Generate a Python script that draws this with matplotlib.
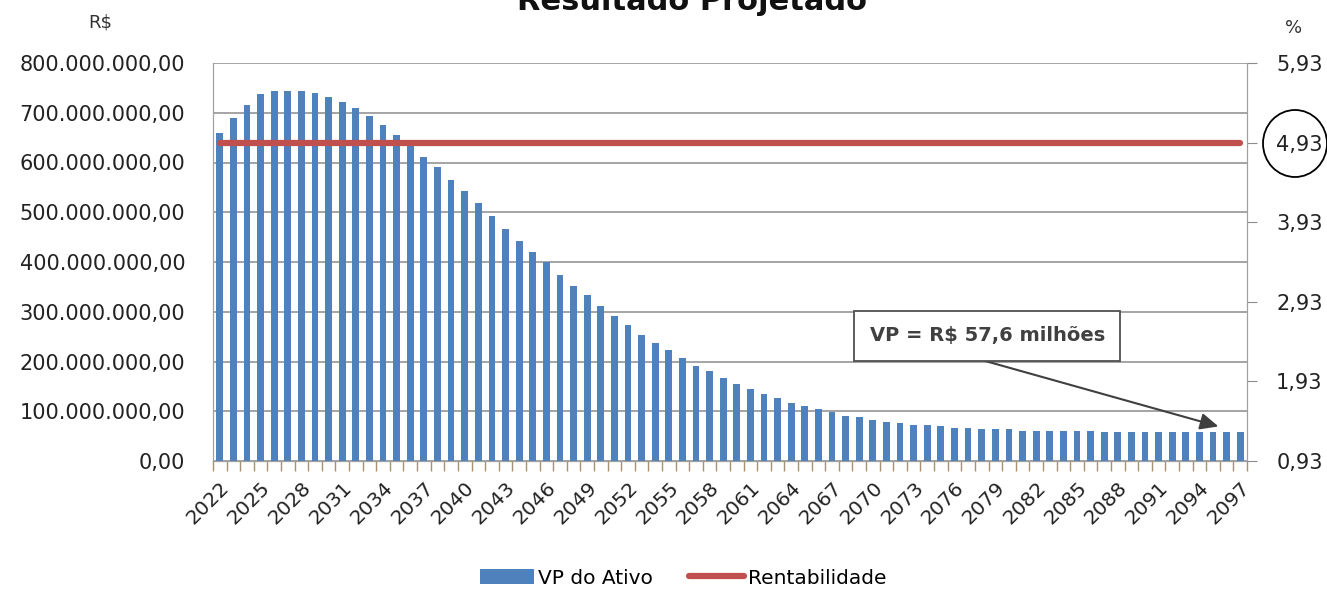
import numpy as np
import matplotlib
matplotlib.use('Agg')
import matplotlib.pyplot as plt
from matplotlib.patches import Ellipse

# dados
anos = list(range(2022, 2098))
vp_mi = [659, 690, 715, 737, 743, 743, 743, 740, 731, 721,
         709, 693, 675, 656, 633, 612, 590, 565, 543, 518,
         492, 467, 443, 420, 400, 374, 352, 333, 312, 292,
         274, 254, 238, 223, 207, 191, 180, 166, 154, 145,
         135, 126, 117, 110, 104, 99, 91, 89, 82, 79,
         76, 73, 72, 70, 66, 66, 64, 64, 64, 61,
         61, 60, 60, 60, 60, 59, 59, 58, 58, 58,
         58, 58, 58, 57.6, 57.6, 57.6]
rentab = [4.93] * len(anos)
ticks_esq = [0, 100, 200, 300, 400, 500, 600, 700, 800]
ticks_dir = [0.93, 1.93, 2.93, 3.93, 4.93, 5.93]

azul = '#4F81BD'
verm = '#C0504D'
cinza = '#8C8C8C'
plt.rcParams['font.family'] = 'DejaVu Sans'

fig = plt.figure(figsize=(13.27, 5.90), dpi=100)
ax = fig.add_axes([213/1327, 1-461/590, (1247-213)/1327, (461-63)/590])
x = np.arange(len(anos))
vp = np.array(vp_mi) * 1e6
ax.bar(x, vp, width=0.5, color=azul, zorder=3, label='VP do Ativo')
ax.set_xlim(-0.5, len(anos) - 0.5)
ax.set_ylim(0, 800e6)
ax.set_yticks([v * 1e6 for v in ticks_esq])
ax.set_yticklabels(['{:,.2f}'.format(v * 1e6).replace(',', '#').replace('.', ',').replace('#', '.') for v in ticks_esq],
                   fontsize=15)
ax.tick_params(axis='y', length=0, pad=20, colors='#222222')
ax.yaxis.grid(True, color=cinza, lw=1.1, zorder=0)
for s in ['left', 'right', 'bottom']:
    ax.spines[s].set_color('#A0A0A0')
ax.spines['top'].set_visible(False)

# rotulos de 3 em 3 anos, marcas em cada limite de categoria
ax.set_xticks(x[::3])
ax.set_xticklabels([str(a) for a in anos[::3]], rotation=45, ha='right',
                   rotation_mode='anchor', fontsize=14.5)
ax.tick_params(axis='x', which='major', length=0, pad=12, colors='#222222')
ax.set_xticks(np.arange(-0.5, len(anos), 1), minor=True)
ax.tick_params(axis='x', which='minor', length=7, color='#A89070', width=1)

ax2 = ax.twinx()
ax2.set_ylim(0.93, 5.93)
ax2.set_yticks(ticks_dir)
ax2.set_yticklabels([('%.2f' % v).replace('.', ',') for v in ticks_dir], fontsize=15)
ax2.tick_params(axis='y', length=7, color=cinza, pad=14, colors='#222222')
for s in ['left', 'right', 'bottom']:
    ax2.spines[s].set_color('#A0A0A0')
ax2.spines['top'].set_visible(False)
ax2.plot(x, rentab, color=verm, lw=4.5, solid_capstyle='round', label='Rentabilidade', zorder=4)

# caixa de anotacao
ax.annotate('', xy=(73.6, 68e6), xytext=(56.0, 203e6),
            arrowprops=dict(arrowstyle='-|>,head_length=1.1,head_width=0.5', color='#404040', lw=1.5),
            zorder=6)
ax.text(56.4, 252e6, 'VP = R$ 57,6 milhões', fontsize=14, fontweight='bold', color='#404040',
        ha='center', va='center', zorder=7,
        bbox=dict(boxstyle='square,pad=0.8', fc='white', ec='#505050', lw=1.3))

fig.text(692/1327, 1-10/590, 'Resultado Projetado', fontsize=22, fontweight='bold',
         ha='center', va='baseline', color='#111111')
fig.text(100/1327, 1-22/590, 'R$', fontsize=13, ha='center', va='center', color='#333333')
fig.text(1294/1327, 1-28/590, '%', fontsize=13, ha='center', va='center', color='#333333')

fig.add_artist(Ellipse((1295/1327, 1-143.5/590), 64/1327, 67/590, transform=fig.transFigure,
                       fill=False, ec='black', lw=1.3))

h1, l1 = ax.get_legend_handles_labels()
h2, l2 = ax2.get_legend_handles_labels()
fig.legend(h1 + h2, l1 + l2, loc='center', bbox_to_anchor=(683/1327, 1-578/590), ncol=2,
           frameon=False, fontsize=14.5, handlelength=2.7, handletextpad=0.2, columnspacing=1.8)

fig.savefig('out.png', dpi=100)
